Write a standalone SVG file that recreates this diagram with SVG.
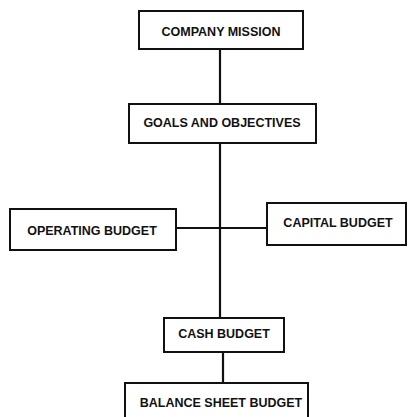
<svg xmlns="http://www.w3.org/2000/svg" width="408" height="417" viewBox="0 0 408 417">
<style>
.box{fill:#fff;stroke:#111;stroke-width:2}
.t{font-family:"Liberation Sans",Arial,sans-serif;font-weight:bold;font-size:12.5px;fill:#111;text-anchor:middle}
.c{stroke:#111;stroke-width:2.2;fill:none}
</style>
<rect width="408" height="417" fill="#fff"/>
<g id="connectors">
<line class="c" x1="220" y1="49" x2="220" y2="104"/>
<line class="c" x1="220" y1="143" x2="220" y2="318"/>
<line class="c" x1="176" y1="228" x2="267" y2="228"/>
<line class="c" x1="223" y1="352" x2="223" y2="383"/>
</g>
<g id="company-mission">
<rect class="box" x="139" y="11" width="164" height="38"/>
<text class="t" x="221" y="36">COMPANY MISSION</text>
</g>
<g id="goals">
<rect class="box" x="129" y="104" width="187" height="39"/>
<text class="t" x="222" y="127">GOALS AND OBJECTIVES</text>
</g>
<g id="operating-budget">
<rect class="box" x="10" y="209" width="166" height="41"/>
<text class="t" x="92" y="235">OPERATING BUDGET</text>
</g>
<g id="capital-budget">
<rect class="box" x="267" y="203" width="139" height="42"/>
<text class="t" x="338" y="227">CAPITAL BUDGET</text>
</g>
<g id="cash-budget">
<rect class="box" x="164" y="318" width="120" height="34"/>
<text class="t" x="224" y="338">CASH BUDGET</text>
</g>
<g id="balance-sheet-budget">
<rect class="box" x="125" y="383" width="183" height="40"/>
<text class="t" x="221" y="407">BALANCE SHEET BUDGET</text>
</g>
</svg>
